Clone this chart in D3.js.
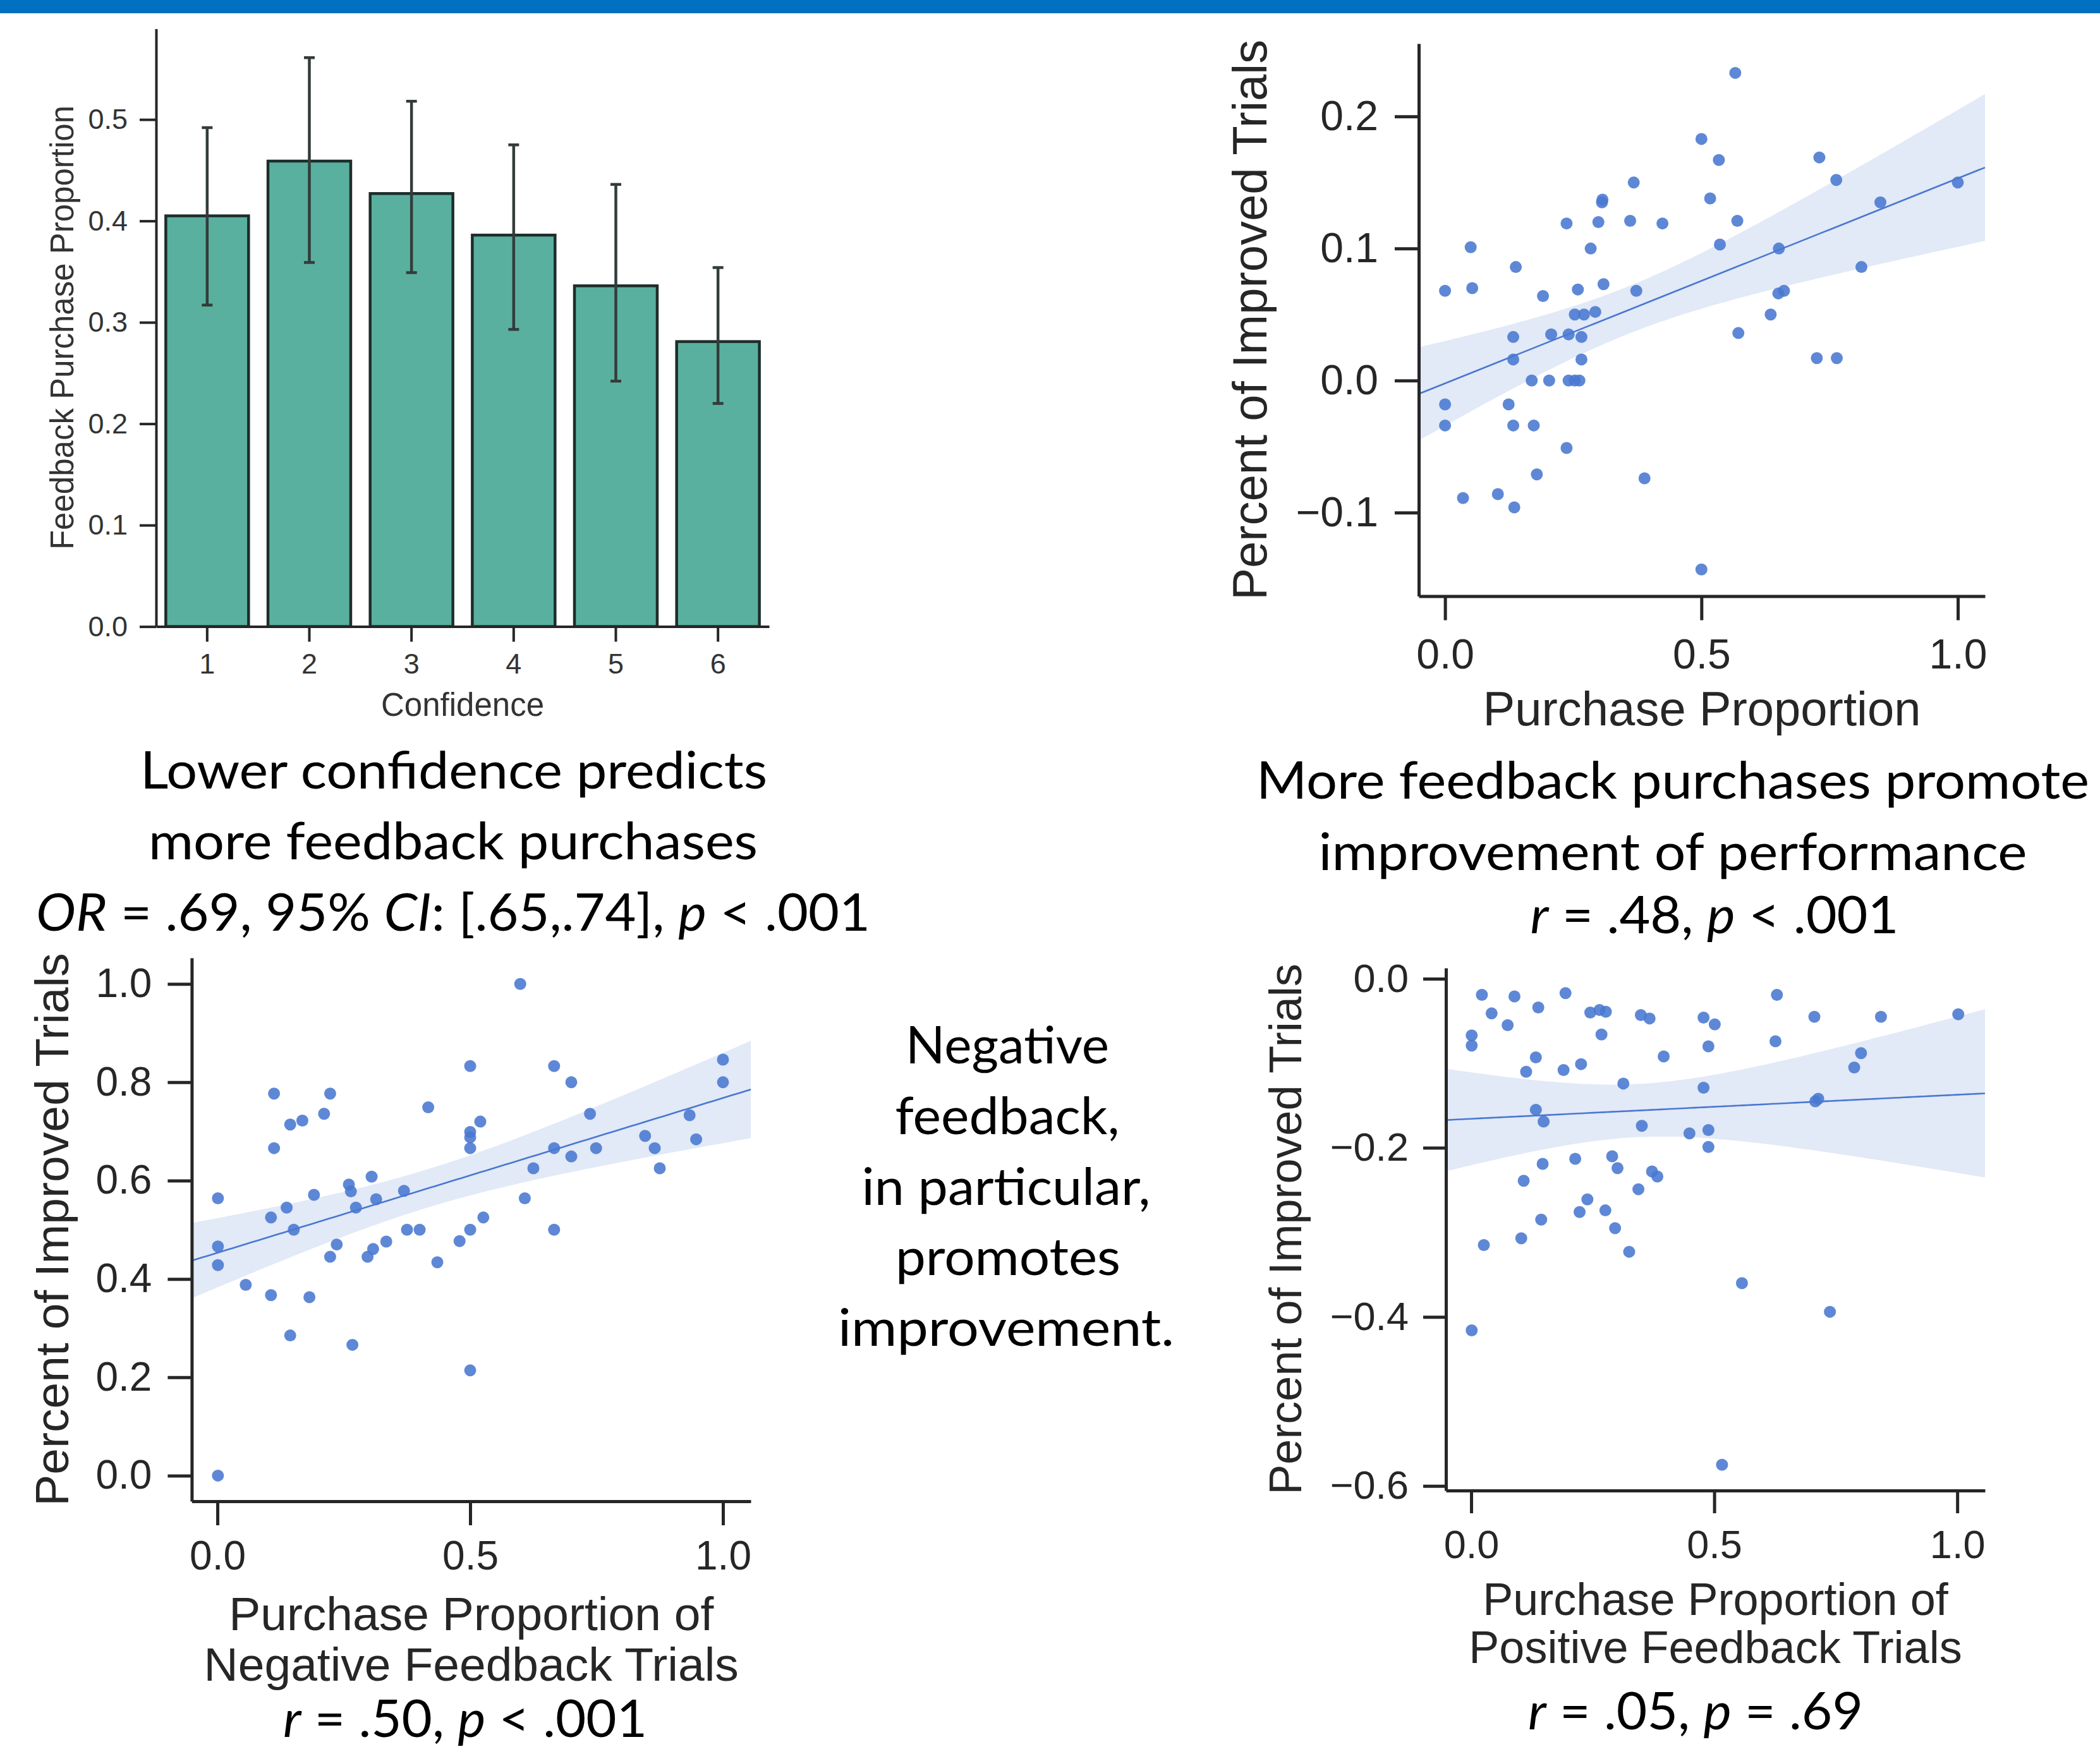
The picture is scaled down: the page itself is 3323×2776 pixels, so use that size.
<!DOCTYPE html>
<html>
<head>
<meta charset="utf-8">
<script src="https://cdn.jsdelivr.net/npm/d3@7"></script>
<style>
  body { margin: 0; background: #fff; }
  svg { display: block; }
</style>
</head>
<body>
<svg id="chart"></svg>
<script>
// ---- bar chart: feedback purchase by confidence
const confidence = [1, 2, 3, 4, 5, 6];
const purchaseMean = [0.405, 0.459, 0.427, 0.386, 0.336, 0.281];
const purchaseLo = [0.317, 0.359, 0.349, 0.293, 0.242, 0.220];
const purchaseHi = [0.492, 0.561, 0.518, 0.475, 0.436, 0.354];
const barTicks = [0, 0.1, 0.2, 0.3, 0.4, 0.5];

// ---- scatter: overall purchase proportion vs improvement
const allProp = [0.566, 0.5, 0.534, 0.730, 0.763, 1.0, 0.368, 0.306, 0.307, 0.517, 0.849,
  0.237, 0.299, 0.361, 0.424, 0.570, 0.050, 0.284, 0.536, 0.651, 0.138, 0.812,
  0.0, 0.053, 0.191, 0.259, 0.309, 0.373, 0.650, 0.661, 0.253, 0.271, 0.293, 0.635,
  0.133, 0.207, 0.241, 0.266, 0.572, 0.133, 0.266, 0.725, 0.764,
  0.169, 0.203, 0.241, 0.253, 0.262, 0.0, 0.124, 0.0, 0.133, 0.173, 0.237,
  0.179, 0.389, 0.035, 0.103, 0.135, 0.5];
const allImp = [0.233, 0.183, 0.167, 0.169, 0.152, 0.150, 0.150, 0.135, 0.137, 0.138, 0.135,
  0.119, 0.120, 0.121, 0.119, 0.121, 0.101, 0.100, 0.103, 0.100, 0.086, 0.086,
  0.068, 0.070, 0.064, 0.069, 0.073, 0.068, 0.066, 0.068, 0.050, 0.050, 0.052, 0.050,
  0.033, 0.035, 0.035, 0.033, 0.036, 0.016, 0.016, 0.017, 0.017,
  0.0, 0.0, 0.0, 0.0, 0.0, -0.018, -0.018, -0.034, -0.034, -0.034, -0.051,
  -0.071, -0.074, -0.089, -0.086, -0.096, -0.143];

// ---- scatter: negative feedback trials
const negProp = [0.599, 0.5, 0.666, 0.700, 1.0, 1.0, 0.112, 0.223, 0.417, 0.144, 0.168,
  0.211, 0.520, 0.5, 0.5, 0.5, 0.737, 0.934, 0.947, 0.112, 0.666, 0.700, 0.749,
  0.846, 0.865, 0.875, 0.625, 0.001, 0.191, 0.260, 0.264, 0.305, 0.314, 0.369, 0.608,
  0.137, 0.274, 0.106, 0.526, 0.151, 0.375, 0.400, 0.5, 0.666, 0.479, 0.334, 0.236,
  0.308, 0.223, 0.297, 0.435, 0.001, 0.001, 0.056, 0.106, 0.182, 0.144, 0.267, 0.5, 0.001];
const negImp = [1.0, 0.833, 0.833, 0.8, 0.846, 0.8, 0.777, 0.777, 0.749, 0.714, 0.722,
  0.736, 0.720, 0.699, 0.688, 0.666, 0.736, 0.733, 0.684, 0.666, 0.666, 0.649, 0.666,
  0.691, 0.666, 0.625, 0.625, 0.564, 0.571, 0.592, 0.578, 0.608, 0.562, 0.579, 0.564,
  0.545, 0.545, 0.525, 0.525, 0.5, 0.5, 0.5, 0.5, 0.5, 0.477, 0.476, 0.470,
  0.461, 0.445, 0.445, 0.434, 0.466, 0.428, 0.388, 0.367, 0.363, 0.285, 0.266, 0.214, 0.0];

// ---- scatter: positive feedback trials
const posProp = [0.022, 0.194, 0.629, 0.089, 0.138, 0.042, 0.245, 0.264, 0.277, 0.349, 0.367,
  0.478, 0.501, 0.706, 0.843, 1.002, 0.075, 0.001, 0.001, 0.268, 0.626, 0.488, 0.396,
  0.133, 0.226, 0.190, 0.113, 0.788, 0.802, 0.313, 0.478, 0.708, 0.714, 0.133, 0.149,
  0.351, 0.488, 0.449, 0.488, 0.290, 0.214, 0.147, 0.301, 0.372, 0.383, 0.108, 0.344,
  0.239, 0.276, 0.223, 0.144, 0.296, 0.103, 0.026, 0.325, 0.557, 0.738, 0.001, 0.516];
const posImp = [-0.019, -0.017, -0.019, -0.021, -0.034, -0.041, -0.040, -0.037, -0.039, -0.043, -0.047,
  -0.046, -0.054, -0.045, -0.045, -0.042, -0.055, -0.067, -0.079, -0.066, -0.074, -0.080, -0.092,
  -0.093, -0.101, -0.108, -0.110, -0.105, -0.088, -0.124, -0.129, -0.145, -0.142, -0.155, -0.169,
  -0.174, -0.179, -0.183, -0.199, -0.210, -0.213, -0.219, -0.224, -0.228, -0.234, -0.239, -0.249,
  -0.261, -0.274, -0.276, -0.285, -0.295, -0.307, -0.315, -0.323, -0.360, -0.394, -0.416, -0.575];

const W = 3323, H = 2776;
const svg = d3.select('#chart').attr('width', W).attr('height', H);
const INK = '#262626';
const AX_FONT = '"Liberation Sans", Arial, sans-serif';
const BLUE = '#4878d0';
const fmt = d3.format('.1f');

svg.append('rect').attr('x', 0).attr('y', 0).attr('width', W).attr('height', 21).attr('fill', '#0070c0');

// ==================================================
// bar chart

(function () {
  const x = d3.scaleBand().domain(confidence).range([247, 1217])
    .paddingInner(0.19).paddingOuter(0.095);
  const y = d3.scaleLinear().domain([0, 0.5895]).range([991.6, 45.5]);
  const g = svg.append('g');

  g.selectAll('rect.bar').data(confidence).join('rect')
    .attr('class', 'bar')
    .attr('x', d => x(d))
    .attr('width', x.bandwidth())
    .attr('y', (d, i) => y(purchaseMean[i]))
    .attr('height', (d, i) => y(0) - y(purchaseMean[i]))
    .attr('fill', '#59b09f')
    .attr('stroke', '#1d2d2a')
    .attr('stroke-width', 4.5);

  const err = g.selectAll('g.err').data(confidence).join('g').attr('class', 'err')
    .attr('stroke', '#333c3a').attr('stroke-width', 4.5);
  const cx = d => x(d) + x.bandwidth() / 2;
  err.append('line').attr('x1', cx).attr('x2', cx)
    .attr('y1', (d, i) => y(purchaseLo[i])).attr('y2', (d, i) => y(purchaseHi[i]));
  err.append('line').attr('x1', d => cx(d) - 8.5).attr('x2', d => cx(d) + 8.5)
    .attr('y1', (d, i) => y(purchaseLo[i])).attr('y2', (d, i) => y(purchaseLo[i]));
  err.append('line').attr('x1', d => cx(d) - 8.5).attr('x2', d => cx(d) + 8.5)
    .attr('y1', (d, i) => y(purchaseHi[i])).attr('y2', (d, i) => y(purchaseHi[i]));

  const xa = g.append('g').attr('transform', 'translate(0,991.6)')
    .call(d3.axisBottom(x).tickSize(24).tickSizeOuter(0).tickPadding(18));
  const ya = g.append('g').attr('transform', 'translate(247,0)')
    .call(d3.axisLeft(y).tickValues(barTicks).tickFormat(fmt).tickSize(26).tickSizeOuter(0).tickPadding(19));
  [xa, ya].forEach(a => {
    a.selectAll('path.domain').attr('stroke', INK).attr('stroke-width', 4);
    a.selectAll('.tick line').attr('stroke', INK).attr('stroke-width', 4);
    a.selectAll('.tick text').attr('fill', '#333').attr('font-family', AX_FONT).attr('font-size', 45);
  });

  g.append('text').attr('x', 732).attr('y', 1133).attr('text-anchor', 'middle')
    .attr('font-family', AX_FONT).attr('font-size', 51).attr('fill', '#333').text('Confidence');
  g.append('text').attr('transform', 'translate(116,518.5) rotate(-90)').attr('text-anchor', 'middle')
    .attr('font-family', AX_FONT).attr('font-size', 51).attr('fill', '#333').text('Feedback Purchase Proportion');
})();

// ==================================================
// scatter + regression panels

function olsFit(xs, ys) {
  const n = xs.length;
  const mx = d3.mean(xs), my = d3.mean(ys);
  let sxx = 0, sxy = 0;
  xs.forEach((v, i) => { sxx += (v - mx) * (v - mx); sxy += (v - mx) * (ys[i] - my); });
  const b = sxy / sxx, a = my - b * mx;
  let sse = 0;
  xs.forEach((v, i) => { const r = ys[i] - (a + b * v); sse += r * r; });
  const s = Math.sqrt(sse / (n - 2));
  return {
    predict: v => a + b * v,
    half: v => 2.0 * s * Math.sqrt(1 / n + (v - mx) * (v - mx) / sxx)
  };
}

function scatterPanel(cfg) {
  const x = d3.scaleLinear().domain(cfg.xDomain).range([cfg.left, cfg.right]);
  const y = d3.scaleLinear().domain(cfg.yDomain).range([cfg.bottom, cfg.top]);
  const g = svg.append('g');
  const fit = olsFit(cfg.xs, cfg.ys);
  const grid = d3.ticks(cfg.xDomain[0], cfg.xDomain[1], 120);
  grid.unshift(cfg.xDomain[0]);
  grid.push(cfg.xDomain[1]);

  g.append('path').datum(grid)
    .attr('d', d3.area().x(d => x(d))
      .y0(d => y(fit.predict(d) - fit.half(d)))
      .y1(d => y(fit.predict(d) + fit.half(d))))
    .attr('fill', BLUE).attr('fill-opacity', 0.16);

  g.selectAll('circle').data(cfg.xs).join('circle')
    .attr('cx', d => x(d))
    .attr('cy', (d, i) => y(cfg.ys[i]))
    .attr('r', 9.5)
    .attr('fill', BLUE).attr('fill-opacity', 0.88);

  g.append('path').datum(grid)
    .attr('d', d3.line().x(d => x(d)).y(d => y(fit.predict(d))))
    .attr('fill', 'none').attr('stroke', BLUE).attr('stroke-width', 2.6);

  const xa = g.append('g').attr('transform', `translate(0,${cfg.bottom})`)
    .call(d3.axisBottom(x).tickValues([0, 0.5, 1]).tickFormat(fmt)
      .tickSize(cfg.tick).tickSizeOuter(0).tickPadding(cfg.xPad));
  const ya = g.append('g').attr('transform', `translate(${cfg.left},0)`)
    .call(d3.axisLeft(y).tickValues(cfg.yTicks).tickFormat(fmt)
      .tickSize(cfg.tick).tickSizeOuter(0).tickPadding(cfg.yPad));
  [xa, ya].forEach(a => {
    a.selectAll('path.domain').attr('stroke', INK).attr('stroke-width', 5);
    a.selectAll('.tick line').attr('stroke', INK).attr('stroke-width', 5);
    a.selectAll('.tick text').attr('fill', INK).attr('font-family', AX_FONT).attr('font-size', cfg.tickFont);
  });

  const midX = (cfg.left + cfg.right) / 2, midY = (cfg.top + cfg.bottom) / 2;
  cfg.xLabel.forEach((t, i) => {
    g.append('text').attr('x', midX).attr('y', cfg.xLabelY[i]).attr('text-anchor', 'middle')
      .attr('font-family', AX_FONT).attr('font-size', cfg.labelFont).attr('fill', INK).text(t);
  });
  g.append('text').attr('transform', `translate(${cfg.yLabelX},${midY}) rotate(-90)`)
    .attr('text-anchor', 'middle')
    .attr('font-family', AX_FONT).attr('font-size', cfg.labelFont).attr('fill', INK)
    .text('Percent of Improved Trials');
}

scatterPanel({
  xs: allProp, ys: allImp,
  left: 2245, right: 3141, top: 69, bottom: 943.6,
  xDomain: [-0.0513, 1.053], yDomain: [-0.1633, 0.2552],
  yTicks: [-0.1, 0, 0.1, 0.2],
  tick: 38, xPad: 30, yPad: 26, tickFont: 66, labelFont: 76,
  xLabel: ['Purchase Proportion'], xLabelY: [1148], yLabelX: 2004
});

scatterPanel({
  xs: negProp, ys: negImp,
  left: 303.4, right: 1188, top: 1516, bottom: 2376,
  xDomain: [-0.0508, 1.055], yDomain: [-0.0522, 1.053],
  yTicks: [0, 0.2, 0.4, 0.6, 0.8, 1.0],
  tick: 38, xPad: 25, yPad: 25, tickFont: 64, labelFont: 75,
  xLabel: ['Purchase Proportion of', 'Negative Feedback Trials'], xLabelY: [2580, 2660], yLabelX: 108
});

scatterPanel({
  xs: posProp, ys: posImp,
  left: 2288, right: 3141, top: 1532, bottom: 2359,
  xDomain: [-0.052, 1.057], yDomain: [-0.6054, 0.0127],
  yTicks: [-0.6, -0.4, -0.2, 0],
  tick: 36, xPad: 26, yPad: 23, tickFont: 63, labelFont: 72,
  xLabel: ['Purchase Proportion of', 'Positive Feedback Trials'], xLabelY: [2556, 2632], yLabelX: 2059
});

// ==================================================
// slide captions

function caption(cx, baseline, parts, len) {
  const t = svg.append('text').attr('x', cx).attr('y', baseline).attr('text-anchor', 'middle')
    .attr('font-family', 'Lato, "Open Sans", sans-serif').attr('font-size', 81).attr('fill', '#000')
    .attr('textLength', len).attr('lengthAdjust', 'spacingAndGlyphs');
  parts.forEach(p => {
    t.append('tspan').attr('font-style', p[1] ? 'italic' : 'normal').text(p[0]);
  });
}

caption(718, 1248, [['Lower confidence predicts']], 992);
caption(717, 1360, [['more feedback purchases']], 964);
caption(717, 1473, [['OR', 1], [' = .69, 95% '], ['CI', 1], [': [.65,.74], '], ['p', 1], [' < .001']], 1320);

caption(2647, 1264, [['More feedback purchases promote']], 1318);
caption(2647, 1377, [['improvement of performance']], 1121);
caption(2713, 1477, [['r', 1], [' = .48, '], ['p', 1], [' < .001']], 583);

caption(1594, 1683, [['Negative']], 322);
caption(1594, 1795, [['feedback,']], 355);
caption(1592, 1907, [['in particular,']], 457);
caption(1595, 2018, [['promotes']], 356);
caption(1592, 2130, [['improvement.']], 532);

caption(736, 2749, [['r', 1], [' = .50, '], ['p', 1], [' < .001']], 576);
caption(2683, 2737, [['r', 1], [' = .05, '], ['p', 1], [' = .69']], 530);
</script>
</body>
</html>
